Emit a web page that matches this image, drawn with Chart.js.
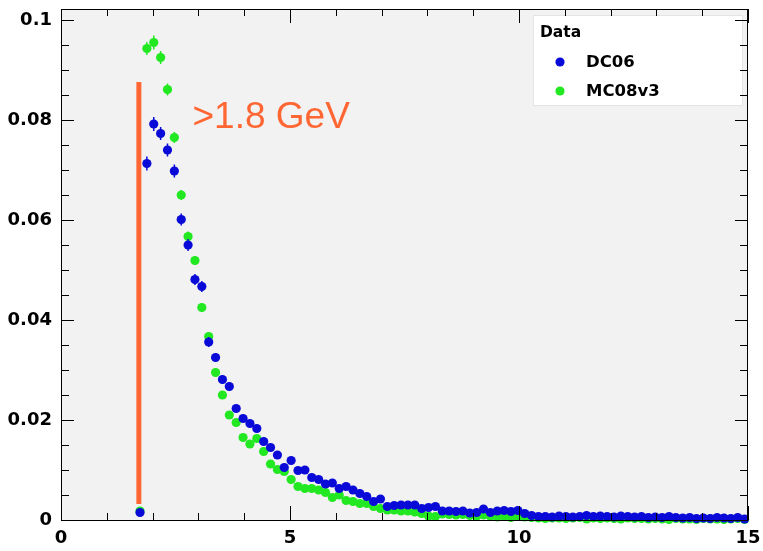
<!DOCTYPE html>
<html>
<head>
<meta charset="utf-8">
<script src="https://cdn.jsdelivr.net/npm/chart.js@4.4.1/dist/chart.umd.min.js"></script>
<style>
  html, body { margin: 0; padding: 0; background: #fff; }
  #wrap { width: 763px; height: 551px; }
</style>
</head>
<body>
<div id="wrap"><canvas id="chart"></canvas></div>
<script>
// 100 bins over 0..15, first filled bin is 1.65-1.8
const binWidth = 0.15;
const firstBinCenter = 1.725;

const dc06 = [
  0.0015, 0.0713, 0.0792, 0.0773, 0.0740, 0.0698, 0.0601, 0.0550, 0.0481, 0.0467,
  0.0356, 0.0325, 0.0281, 0.0267, 0.0223, 0.0203, 0.0193, 0.0183, 0.0157, 0.0145,
  0.0130, 0.0105, 0.0119, 0.0099, 0.0100, 0.0085, 0.0081, 0.0072, 0.0074, 0.0063,
  0.0067, 0.0060, 0.0053, 0.0047, 0.0037, 0.0042, 0.0027, 0.0029, 0.0030, 0.0030,
  0.0030, 0.0023, 0.0025, 0.0027, 0.0018, 0.0018, 0.0017, 0.0018, 0.0014, 0.0015,
  0.0022, 0.0015, 0.0018, 0.0019, 0.0017, 0.0019, 0.0013, 0.0009, 0.0007, 0.0007,
  0.0006, 0.0008, 0.0007, 0.0006, 0.0007, 0.0009, 0.0007, 0.0008, 0.0007, 0.0006,
  0.0008, 0.0007, 0.0006, 0.0007, 0.0005, 0.0006, 0.0005, 0.0007, 0.0005, 0.0004,
  0.0005, 0.0003, 0.0004, 0.0003, 0.0005, 0.0004, 0.0003, 0.0005, 0.0002
];
const mc08v3 = [
  0.0018, 0.0943, 0.0955, 0.0925, 0.0861, 0.0765, 0.0650, 0.0567, 0.0519, 0.0425,
  0.0367, 0.0295, 0.0250, 0.0210, 0.0195, 0.0165, 0.0152, 0.0163, 0.0137, 0.0112,
  0.0101, 0.0097, 0.0081, 0.0067, 0.0063, 0.0063, 0.0060, 0.0055, 0.0045, 0.0050,
  0.0039, 0.0037, 0.0033, 0.0033, 0.0027, 0.0023, 0.0020, 0.0020, 0.0018, 0.0018,
  0.0016, 0.0013, 0.0008, 0.0007, 0.0012, 0.0011, 0.0010, 0.0011, 0.0009, 0.0008,
  0.0010, 0.0008, 0.0006, 0.0008, 0.0005, 0.0007, 0.0006, 0.0005, 0.0004, 0.0003,
  0.0004, 0.0004, 0.0003, 0.0004, 0.0005, 0.0002, 0.0004, 0.0003, 0.0004, 0.0003,
  0.0002, 0.0004, 0.0003, 0.0003, 0.0002, 0.0003, 0.0002, 0.0001, 0.0003, 0.0002,
  0.0002, 0.0001, 0.0003, 0.0002, 0.0002, 0.0001, 0.0002, 0.0003, 0.0001
];
// error bars, only visible outside the markers in the first bins
const dc06Err = [0.0005, 0.0014, 0.0014, 0.0013, 0.0013, 0.0013, 0.0012, 0.0012, 0.0011, 0.0011, 0.0010, 0.0009, 0.0009, 0.0009];
const mc08v3Err = [0.0005, 0.0013, 0.0014, 0.0013, 0.0012, 0.0011, 0.0010, 0.0010, 0.0009, 0.0009, 0.0008, 0.0008, 0.0007, 0.0007];

const xMajorTicks = [0, 5, 10, 15];
const xTickLabels = ['0', '5', '10', '15'];
const xMinorTicks = [1, 2, 3, 4, 6, 7, 8, 9, 11, 12, 13, 14];
const yMajorTicks = [0, 0.02, 0.04, 0.06, 0.08, 0.1];
const yTickLabels = ['0', '0.02', '0.04', '0.06', '0.08', '0.1'];
const yMinorTicks = [0.005, 0.01, 0.015, 0.025, 0.03, 0.035, 0.045, 0.05, 0.055, 0.065, 0.07, 0.075, 0.085, 0.09, 0.095];

const cutX = 1.7;
const cutLow = 0.0032;
const cutHigh = 0.0876;
const cutText = '>1.8 GeV';
const cutTextPos = { x: 2.87, y: 0.0785 };

const BLUE = '#0a0ad8';
const GREEN = '#22e822';
const ORANGE = '#ff6633';
const BOLD = '"DejaVu Sans", sans-serif';

function toPoints(values) {
  return values.map((v, i) => ({ x: firstBinCenter + i * binWidth, y: v }));
}

const errors = { DC06: dc06Err, MC08v3: mc08v3Err };

const rootStyle = {
  id: 'rootStyle',
  beforeDraw(chart) {
    const { ctx, chartArea: a } = chart;
    ctx.save();
    ctx.fillStyle = '#f2f2f2';
    ctx.fillRect(a.left, a.top, a.right - a.left, a.bottom - a.top);
    ctx.restore();
  },
  beforeDatasetDraw(chart, args) {
    const ds = chart.data.datasets[args.index];
    const err = errors[ds.label];
    if (!err) {
      return;
    }
    const { ctx, scales: { x, y } } = chart;
    ctx.save();
    ctx.strokeStyle = ds.backgroundColor;
    ctx.lineWidth = 1.5;
    err.forEach((e, i) => {
      const p = ds.data[i];
      const px = x.getPixelForValue(p.x);
      ctx.beginPath();
      ctx.moveTo(px, y.getPixelForValue(p.y - e));
      ctx.lineTo(px, y.getPixelForValue(p.y + e));
      ctx.stroke();
    });
    ctx.restore();
  },
  afterDatasetsDraw(chart) {
    const { ctx, chartArea: a, scales: { x, y } } = chart;
    ctx.save();

    // legend box
    ctx.fillStyle = '#fff';
    ctx.fillRect(533, 15, 210, 91);
    ctx.strokeStyle = '#e4e4e4';
    ctx.lineWidth = 1;
    ctx.strokeRect(533.5, 15.5, 209, 90);
    ctx.fillStyle = '#000';
    ctx.textBaseline = 'alphabetic';
    ctx.textAlign = 'left';
    ctx.font = 'bold 15.5px ' + BOLD;
    ctx.fillText('Data', 540, 37);
    ctx.font = 'bold 16.5px ' + BOLD;
    ctx.fillText('DC06', 586, 67);
    ctx.fillText('MC08v3', 586, 96);
    ctx.fillStyle = BLUE;
    ctx.beginPath();
    ctx.arc(560, 62, 4.6, 0, Math.PI * 2);
    ctx.fill();
    ctx.fillStyle = GREEN;
    ctx.beginPath();
    ctx.arc(560, 91, 4.6, 0, Math.PI * 2);
    ctx.fill();

    // frame and inward ticks on all four sides
    ctx.fillStyle = '#000';
    ctx.strokeStyle = '#000';
    ctx.lineWidth = 1;
    ctx.strokeRect(a.left + 0.5, a.top + 0.5, a.right - a.left - 1, a.bottom - a.top);
    ctx.beginPath();
    const xTick = (v, len) => {
      const px = Math.round(x.getPixelForValue(v)) + 0.5;
      ctx.moveTo(px, a.bottom);
      ctx.lineTo(px, a.bottom - len);
      ctx.moveTo(px, a.top);
      ctx.lineTo(px, a.top + len);
    };
    const yTick = (v, len) => {
      const py = Math.round(y.getPixelForValue(v)) + 0.5;
      ctx.moveTo(a.left, py);
      ctx.lineTo(a.left + len, py);
      ctx.moveTo(a.right, py);
      ctx.lineTo(a.right - len, py);
    };
    xMajorTicks.forEach((v) => xTick(v, 14));
    xMinorTicks.forEach((v) => xTick(v, 7));
    yMajorTicks.forEach((v) => yTick(v, 13));
    yMinorTicks.forEach((v) => yTick(v, 8));
    ctx.stroke();

    // tick labels
    ctx.font = 'bold 18px ' + BOLD;
    ctx.textBaseline = 'middle';
    ctx.textAlign = 'center';
    xMajorTicks.forEach((v, i) => ctx.fillText(xTickLabels[i], x.getPixelForValue(v), a.bottom + 18));
    ctx.textAlign = 'right';
    yMajorTicks.forEach((v, i) => ctx.fillText(yTickLabels[i], a.left - 9, y.getPixelForValue(v)));

    // cut label
    ctx.fillStyle = ORANGE;
    ctx.textAlign = 'left';
    ctx.textBaseline = 'alphabetic';
    ctx.font = '37px "Liberation Sans", Arial, sans-serif';
    ctx.fillText(cutText, x.getPixelForValue(cutTextPos.x), y.getPixelForValue(cutTextPos.y));
    ctx.restore();
  }
};

new Chart(document.getElementById('chart'), {
  type: 'scatter',
  data: {
    datasets: [
      {
        label: 'DC06',
        data: toPoints(dc06),
        backgroundColor: BLUE,
        borderWidth: 0,
        pointRadius: 4.6,
        clip: false,
        order: 0
      },
      {
        label: 'MC08v3',
        data: toPoints(mc08v3),
        backgroundColor: GREEN,
        borderWidth: 0,
        pointRadius: 4.6,
        clip: false,
        order: 1
      },
      {
        type: 'line',
        label: 'cut',
        data: [{ x: cutX, y: cutLow }, { x: cutX, y: cutHigh }],
        borderColor: ORANGE,
        borderWidth: 5,
        pointRadius: 0,
        order: 2
      }
    ]
  },
  options: {
    responsive: true,
    maintainAspectRatio: false,
    animation: false,
    layout: { padding: { top: 9, right: 15, left: 61, bottom: 31 } },
    plugins: {
      legend: { display: false },
      tooltip: { enabled: false }
    },
    scales: {
      x: { type: 'linear', min: 0, max: 15, display: false },
      y: { type: 'linear', min: 0, max: 0.1022, display: false }
    }
  },
  plugins: [rootStyle]
});
</script>
</body>
</html>
